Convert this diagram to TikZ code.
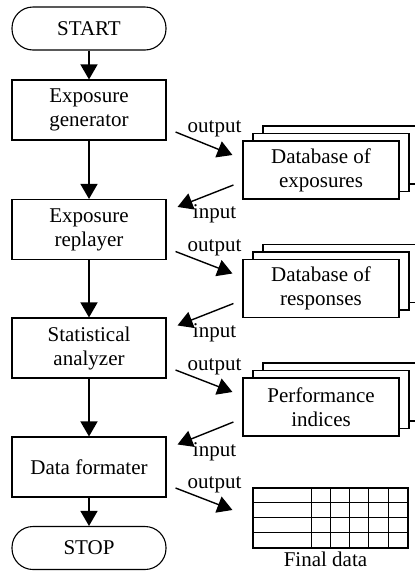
\documentclass[tikz,border=0pt]{standalone}
\usepackage{fontspec}
\setmainfont{Liberation Serif}
\usepackage{tikz}
\usetikzlibrary{positioning}
\usetikzlibrary{calc}
\usetikzlibrary{arrows.meta}
\tikzset{
    x=1pt, y=-1pt,
    every node/.style={font=\fontsize{21}{24}\selectfont},
    flow/.style = {-{Triangle[width=17pt,length=15pt]}, line width=1.4pt},
    terminal/.style = {shape=rectangle, draw, rounded corners=21pt, minimum width=154pt, minimum height=43pt, line width=1.1pt},
    process/.style = {shape=rectangle, draw, align=center, minimum width=154pt, minimum height=60pt, line width=1.1pt},
    sheet/.style = {shape=rectangle, draw, fill=white, align=center, minimum width=156pt, minimum height=58pt, line width=1.1pt},
    io label/.style = {anchor=base, inner sep=0pt}
}

\begin{document}
\begin{tikzpicture}
    \useasboundingbox (0,0) rectangle (415,571);
    \clip (0,0) rectangle (415,571);
    % main flow
    \node (start) [terminal] at (89,28.5) {START};
    \node (gen) [process] at (89,110) {Exposure\\generator};
    \node (rep) [process] at (89,229.5) {Exposure\\replayer};
    \node (ana) [process] at (89,348) {Statistical\\analyzer};
    \node (fmt) [process] at (89,467) {Data formater};
    \node (stop) [terminal] at (89,548) {STOP};
    \draw[flow] (start) -- (gen);
    \draw[flow] (gen) -- (rep);
    \draw[flow] (rep) -- (ana);
    \draw[flow] (ana) -- (fmt);
    \draw[flow] (fmt) -- (stop);
    % stacked data sets
    \foreach \name/\y/\txt in {dbexp/170/{Database of\\exposures}, dbres/288.5/{Database of\\responses}, perf/407/{Performance\\indices}}{
        \node (\name-back) [sheet] at (341,\y-15) {};
        \node (\name-mid) [sheet] at (331,\y-7.5) {};
        \node (\name) [sheet] at (321,\y) {\txt};
    }
    % output / input arrows
    \foreach \src/\db/\dst in {gen/dbexp/rep, rep/dbres/ana, ana/perf/fmt}{
        \coordinate (\src-out) at ($(\src.east)+(9,22)$);
        \coordinate (\db-in) at ($(\db.west)+(-10,-15)$);
        \coordinate (\db-out) at ($(\db.west)+(-9,15)$);
        \coordinate (\dst-in) at ($(\dst.north east)+(11,8)$);
        \draw[flow] (\src-out) -- (\db-in);
        \draw[flow] (\db-out) -- (\dst-in);
        \node (\src-outlabel) [io label] at ($(\src-out)+(39,0)$) {output};
        \node (\dst-inlabel) [io label] at ($(\dst-in)+(37,12)$) {input};
    }
    % final table
    \node (tab) [draw, line width=1.1pt, minimum width=155pt, minimum height=60pt, inner sep=0pt] at (330.5,518) {};
    \foreach \yy in {15,30,45}
        \draw[line width=1.1pt] ($(tab.north west)+(0,\yy)$) -- ($(tab.north east)+(0,\yy)$);
    \foreach \xx in {59,78,97,116,136}
        \draw[line width=1.1pt] ($(tab.north west)+(\xx,0)$) -- ($(tab.south west)+(\xx,0)$);
    \node (tablabel) [below=3pt of tab, xshift=-5pt, inner sep=0pt] {Final data};
    \coordinate (fmt-out) at ($(fmt.east)+(9,21)$);
    \coordinate (tab-in) at ($(tab.west)+(-20,-8)$);
    \draw[flow] (fmt-out) -- (tab-in);
    \node (fmt-outlabel) [io label] at ($(fmt-out)+(39,0)$) {output};
\end{tikzpicture}
\end{document}
